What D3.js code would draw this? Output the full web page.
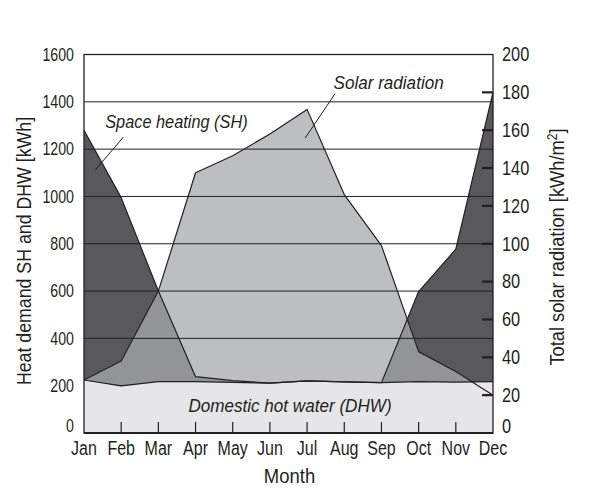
<!DOCTYPE html>
<html><head><meta charset="utf-8">
<script src="https://cdn.jsdelivr.net/npm/d3@7"></script>
<style>
body{margin:0;background:#fff}
text{font-family:"Liberation Sans",Arial,sans-serif;fill:#231f20}
</style>
</head><body>
<svg id="chart" width="590" height="499"></svg>
<script>
// ---- data ----
const months = ["Jan","Feb","Mar","Apr","May","Jun","Jul","Aug","Sep","Oct","Nov","Dec"];
// Domestic hot water demand [kWh]
const dhw = [224, 199, 217, 217, 214, 211, 220, 216, 213, 217, 215, 217];
// Space heating demand (stacked on DHW) [kWh]
const spaceHeating = [1056, 796, 383, 21, 7, 0, 0, 0, 0, 381, 562, 1223];
// Total solar radiation [kWh/m2]
const solarRadiation = [28, 38, 75, 137.5, 146.5, 158, 171, 126, 99, 43, 32.5, 20];
const leftTicks = [0, 200, 400, 600, 800, 1000, 1200, 1400, 1600];
const rightTicks = [0, 20, 40, 60, 80, 100, 120, 140, 160, 180, 200];

const ink = "#231f20";
const cDark = "#59595b", cLight = "#bdbec0", cMid = "#939496", cDhw = "#e6e6e8";

const svg = d3.select("#chart");
const L = 84, R = 493, T = 54.5, B = 433;

const x = d3.scalePoint().domain(months).range([L, R]);
const y = d3.scaleLinear().domain([0, 1600]).range([B, T]);
const yR = d3.scaleLinear().domain([0, 200]).range([B, T]);
const step = x.step();

const rows = months.map((m, i) => ({m, dhw: dhw[i], sh: spaceHeating[i], solar: solarRadiation[i]}));
const stack = d3.stack().keys(["dhw", "sh"])(rows);
const shTop = stack[1];

const shArea = d3.area().x((d, i) => x(months[i])).y0(y(0)).y1(d => y(d[1]));
const shLine = d3.line().x((d, i) => x(months[i])).y(d => y(d[1]));
const solarArea = d3.area().x(d => x(d.m)).y0(yR(0)).y1(d => yR(d.solar));
const solarLine = d3.line().x(d => x(d.m)).y(d => yR(d.solar));
const dhwArea = d3.area().x(d => x(d.m)).y0(y(0)).y1(d => y(d.dhw));
const dhwLine = d3.line().x(d => x(d.m)).y(d => y(d.dhw));

svg.append("defs").append("clipPath").attr("id", "shClip")
  .append("path").attr("d", shArea(shTop));

// areas
svg.append("path").attr("d", shArea(shTop)).attr("fill", cDark);
svg.append("path").attr("d", solarArea(rows)).attr("fill", cLight);
svg.append("path").attr("d", solarArea(rows)).attr("fill", cMid).attr("clip-path", "url(#shClip)");

// gridlines
svg.append("g").selectAll("line").data(leftTicks.filter(t => t > 0 && t < 1600)).join("line")
  .attr("x1", L).attr("x2", R).attr("y1", d => y(d)).attr("y2", d => y(d))
  .attr("stroke", ink).attr("stroke-width", 1);

// DHW area on top
svg.append("path").attr("d", dhwArea(rows)).attr("fill", cDhw);

// outlines
[solarLine(rows), shLine(shTop), dhwLine(rows)].forEach(p =>
  svg.append("path").attr("d", p).attr("fill", "none").attr("stroke", ink).attr("stroke-width", 1.2).attr("stroke-linejoin", "round"));

// frame
svg.append("rect").attr("x", L).attr("y", T).attr("width", R - L).attr("height", B - T)
  .attr("fill", "none").attr("stroke", ink).attr("stroke-width", 1.3);
svg.append("line").attr("x1", L).attr("x2", R).attr("y1", B).attr("y2", B).attr("stroke", ink).attr("stroke-width", 2.2);

// bottom inside ticks
svg.append("g").selectAll("line").data(months.slice(1, -1)).join("line")
  .attr("x1", d => x(d)).attr("x2", d => x(d)).attr("y1", B).attr("y2", B - 11)
  .attr("stroke", ink).attr("stroke-width", 1.2);

// right inside ticks
svg.append("g").selectAll("line").data(rightTicks.filter(t => t > 0 && t < 200)).join("line")
  .attr("x1", R - 11).attr("x2", R).attr("y1", d => yR(d)).attr("y2", d => yR(d))
  .attr("stroke", ink).attr("stroke-width", 2.2);

// condensed text helper (horizontal compression of a regular face)
const tf = (tx, ty, sx, rot = 0) => `translate(${tx},${ty}) rotate(${rot}) scale(${sx},1)`;

// left tick labels
svg.append("g").selectAll("text").data(leftTicks).join("text")
  .attr("transform", d => tf(L - 10, y(d) - (d === 0 ? 7 : 0), 0.81))
  .attr("dy", "0.35em").attr("text-anchor", "end").style("font-size", "17.5px").text(d => d);

// right tick labels
svg.append("g").selectAll("text").data(rightTicks).join("text")
  .attr("transform", d => tf(R + 9, yR(d) - (d === 0 ? 7 : 0), 0.84))
  .attr("dy", "0.35em").attr("text-anchor", "start").style("font-size", "19.5px").text(d => d);

// month labels
svg.append("g").selectAll("text").data(months).join("text")
  .attr("transform", d => tf(x(d), B + 22, 0.8))
  .attr("text-anchor", "middle").style("font-size", "20px").text(d => d);

// axis titles
svg.append("text").attr("transform", tf((L + R) / 2 + 1, 483, 0.88)).attr("text-anchor", "middle")
  .style("font-size", "21px").text("Month");
svg.append("text").attr("transform", tf(31, 251, 0.845, -90)).attr("text-anchor", "middle")
  .style("font-size", "21px").text("Heat demand SH and DHW [kWh]");
const rt = svg.append("text").attr("transform", tf(564, 247, 0.87, -90)).attr("text-anchor", "middle")
  .style("font-size", "21px");
rt.append("tspan").text("Total solar radiation [kWh/m");
rt.append("tspan").attr("baseline-shift", "super").style("font-size", "14px").text("2");
rt.append("tspan").text("]");

// annotations
const ann = svg.append("g");
ann.append("text").attr("transform", tf(x("Jan") + 0.57 * step, y(1288), 0.86))
  .style("font-size", "19px").style("font-style", "italic").text("Space heating (SH)");
ann.append("line").attr("x1", x("Jan") + 1.06 * step).attr("y1", y(1251))
  .attr("x2", x("Jan") + 0.31 * step).attr("y2", y(1113)).attr("stroke", ink).attr("stroke-width", 1);
ann.append("text").attr("transform", tf(x("Jul") + 0.71 * step, y(1455), 0.9))
  .style("font-size", "19px").style("font-style", "italic").text("Solar radiation");
ann.append("line").attr("x1", x("Jul") + 0.75 * step).attr("y1", y(1434))
  .attr("x2", x("Jul") - 0.05 * step).attr("y2", y(1247)).attr("stroke", ink).attr("stroke-width", 1);
ann.append("text").attr("transform", tf((x("Jun") + x("Jul")) / 2 + 1.5, y(90), 0.9)).attr("text-anchor", "middle")
  .style("font-size", "19px").style("font-style", "italic").text("Domestic hot water (DHW)");
</script>
</body></html>
